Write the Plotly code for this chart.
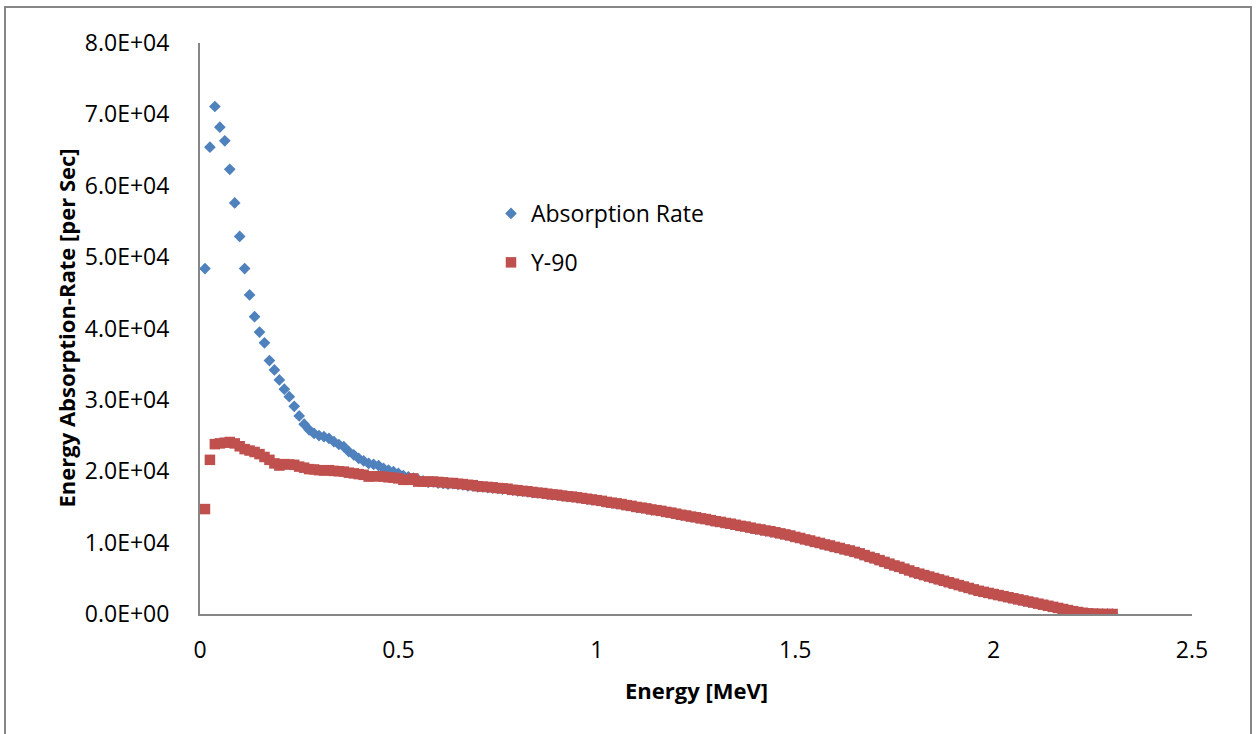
import plotly.graph_objects as go

# Energy bins [MeV]
energy_mev = [
    0.0125, 0.025, 0.0375, 0.05, 0.0625, 0.075, 0.0875, 0.1,
    0.1125, 0.125, 0.1375, 0.15, 0.1625, 0.175, 0.1875, 0.2,
    0.2125, 0.225, 0.2375, 0.25, 0.2625, 0.275, 0.2875, 0.3,
    0.3125, 0.325, 0.3375, 0.35, 0.3625, 0.375, 0.3875, 0.4,
    0.4125, 0.425, 0.4375, 0.45, 0.4625, 0.475, 0.4875, 0.5,
    0.5125, 0.525, 0.5375, 0.55, 0.5625, 0.575, 0.5875, 0.6,
    0.6125, 0.625, 0.6375, 0.65, 0.6625, 0.675, 0.6875, 0.7,
    0.7125, 0.725, 0.7375, 0.75, 0.7625, 0.775, 0.7875, 0.8,
    0.8125, 0.825, 0.8375, 0.85, 0.8625, 0.875, 0.8875, 0.9,
    0.9125, 0.925, 0.9375, 0.95, 0.9625, 0.975, 0.9875, 1.0,
    1.0125, 1.025, 1.0375, 1.05, 1.0625, 1.075, 1.0875, 1.1,
    1.1125, 1.125, 1.1375, 1.15, 1.1625, 1.175, 1.1875, 1.2,
    1.2125, 1.225, 1.2375, 1.25, 1.2625, 1.275, 1.2875, 1.3,
    1.3125, 1.325, 1.3375, 1.35, 1.3625, 1.375, 1.3875, 1.4,
    1.4125, 1.425, 1.4375, 1.45, 1.4625, 1.475, 1.4875, 1.5,
    1.5125, 1.525, 1.5375, 1.55, 1.5625, 1.575, 1.5875, 1.6,
    1.6125, 1.625, 1.6375, 1.65, 1.6625, 1.675, 1.6875, 1.7,
    1.7125, 1.725, 1.7375, 1.75, 1.7625, 1.775, 1.7875, 1.8,
    1.8125, 1.825, 1.8375, 1.85, 1.8625, 1.875, 1.8875, 1.9,
    1.9125, 1.925, 1.9375, 1.95, 1.9625, 1.975, 1.9875, 2.0,
    2.0125, 2.025, 2.0375, 2.05, 2.0625, 2.075, 2.0875, 2.1,
    2.1125, 2.125, 2.1375, 2.15, 2.1625, 2.175, 2.1875, 2.2,
    2.2125, 2.225, 2.2375, 2.25, 2.2625, 2.275, 2.2875, 2.3,
]

absorption_rate = [
    48400, 65400, 71100, 68200, 66300, 62300, 57600, 52900,
    48400, 44700, 41650, 39500, 38000, 35500, 34200, 32800,
    31500, 30450, 29100, 27750, 26600, 25800, 25300, 25000,
    24850, 24600, 24150, 23750, 23450, 22750, 22300, 21800,
    21450, 21100, 20950, 20800, 20400, 20150, 19950, 19700,
    19400, 19200, 19050, 18800, 18650, 18450, 18500, 18350,
    18300, 18200, 18250, 18150, 18100, 17950, 17950, 17800,
    17800, 17700, 17650, 17600, 17500, 17450, 17350, 17250,
    17200, 17150, 17000, 16950, 16900, 16800, 16700, 16650,
    16550, 16450, 16400, 16300, 16200, 16100, 16000, 15900,
    15800, 15650, 15550, 15450, 15350, 15200, 15100, 14950,
    14850, 14750, 14600, 14500, 14400, 14250, 14150, 14000,
    13850, 13750, 13600, 13500, 13350, 13250, 13100, 12950,
    12850, 12700, 12600, 12450, 12300, 12200, 12050, 11900,
    11800, 11650, 11550, 11400, 11250, 11100, 10950, 10750,
    10600, 10400, 10250, 10050, 9900, 9700, 9550, 9350,
    9200, 9000, 8850, 8650, 8450, 8200, 7950, 7750,
    7500, 7250, 7000, 6750, 6550, 6300, 6050, 5800,
    5600, 5400, 5200, 5000, 4800, 4600, 4400, 4200,
    4000, 3800, 3600, 3400, 3200, 3050, 2900, 2750,
    2600, 2450, 2300, 2150, 2000, 1850, 1700, 1550,
    1400, 1250, 1100, 950, 800, 650, 500, 350,
    250, 140, 70, 30, 10, 0, 0, 0,
]

y90 = [
    14700, 21600, 23800, 23900, 24000, 24100, 23900, 23500,
    23100, 22900, 22700, 22400, 22000, 21600, 21100, 20800,
    21000, 20950, 20900, 20650, 20500, 20300, 20250, 20150,
    20100, 20150, 20050, 20000, 19950, 19800, 19700, 19600,
    19500, 19250, 19300, 19300, 19250, 19150, 19100, 19000,
    18800, 18800, 19000, 18550, 18550, 18550, 18550, 18500,
    18450, 18350, 18350, 18250, 18200, 18100, 18050, 17900,
    17850, 17800, 17750, 17650, 17600, 17550, 17400, 17350,
    17250, 17200, 17100, 17000, 16950, 16850, 16750, 16700,
    16600, 16500, 16450, 16350, 16250, 16150, 16050, 15950,
    15850, 15700, 15600, 15500, 15400, 15250, 15150, 15000,
    14900, 14800, 14650, 14550, 14450, 14300, 14200, 14050,
    13900, 13800, 13650, 13550, 13400, 13300, 13150, 13000,
    12900, 12750, 12650, 12500, 12350, 12250, 12100, 11950,
    11850, 11700, 11600, 11450, 11300, 11150, 11000, 10800,
    10650, 10450, 10300, 10100, 9950, 9750, 9600, 9400,
    9250, 9050, 8900, 8700, 8500, 8250, 8000, 7800,
    7550, 7300, 7050, 6800, 6600, 6350, 6100, 5850,
    5650, 5450, 5250, 5050, 4850, 4650, 4450, 4250,
    4050, 3850, 3650, 3450, 3250, 3100, 2950, 2800,
    2650, 2500, 2350, 2200, 2050, 1900, 1750, 1600,
    1450, 1300, 1150, 1000, 850, 700, 550, 400,
    280, 170, 90, 40, 15, 0, 0, 0,
]

y_tickvals = [0, 10000, 20000, 30000, 40000, 50000, 60000, 70000, 80000]
y_ticktext = ["0.0E+00", "1.0E+04", "2.0E+04", "3.0E+04", "4.0E+04",
              "5.0E+04", "6.0E+04", "7.0E+04", "8.0E+04"]
x_tickvals = [0, 0.5, 1, 1.5, 2, 2.5]
x_ticktext = ["0", "0.5", "1", "1.5", "2", "2.5"]

FONT = "Open Sans"
W, H = 1259, 734
L, R, T, B = 200, 67, 43, 120
pw, ph = W - L - R, H - T - B

fig = go.Figure()
fig.add_trace(go.Scatter(
    x=energy_mev, y=absorption_rate, mode="markers", name="Absorption Rate",
    legendgroup="a",
    marker=dict(symbol="diamond", size=9, color="#4F81BD", line=dict(width=0)),
))
fig.add_trace(go.Scatter(
    x=energy_mev, y=y90, mode="markers", name="Y-90",
    legendgroup="b",
    marker=dict(symbol="square", size=10.5, color="#C0504D", line=dict(width=0)),
))

def px_x(p):
    return (p - L) / pw

def px_y(p):
    return (H - B - p) / ph

fig.update_layout(
    width=W, height=H,
    margin=dict(l=L, r=R, t=T, b=B),
    paper_bgcolor="white", plot_bgcolor="white",
    font=dict(family=FONT, size=23, color="black"),
    showlegend=True,
    legend=dict(
        x=px_x(491), y=px_y(192), xanchor="left", yanchor="top",
        bgcolor="rgba(0,0,0,0)", borderwidth=0,
        tracegroupgap=16, traceorder="grouped",
        font=dict(family=FONT, size=23, color="black"),
    ),
    xaxis=dict(
        range=[0, 2.5], tickvals=x_tickvals, ticktext=x_ticktext,
        showgrid=False, zeroline=False, showline=True,
        linecolor="#868686", linewidth=2, ticks="",
        ticklabelstandoff=14,
        tickfont=dict(family=FONT, size=23, color="black"),
    ),
    yaxis=dict(
        range=[0, 80000], tickvals=y_tickvals, ticktext=y_ticktext,
        showgrid=False, zeroline=False, showline=True,
        linecolor="#868686", linewidth=2, ticks="",
        ticklabelstandoff=24,
        tickfont=dict(family=FONT, size=23, color="black"),
    ),
    shapes=[dict(
        type="rect", xref="paper", yref="paper",
        x0=px_x(5), x1=px_x(1251), y0=px_y(745), y1=px_y(7),
        line=dict(color="#868686", width=2), fillcolor="rgba(0,0,0,0)",
        layer="below",
    )],
    annotations=[
        dict(text="<b>Energy [MeV]</b>", xref="paper", yref="paper",
             x=0.5, y=px_y(690), xanchor="center", yanchor="middle",
             showarrow=False, font=dict(family=FONT, size=22, color="black")),
        dict(text="<b>Energy Absorption-Rate [per Sec]</b>", xref="paper", yref="paper",
             x=px_x(65), y=0.5, xanchor="center", yanchor="middle", textangle=-90,
             showarrow=False, font=dict(family=FONT, size=22, color="black")),
    ],
)

fig.write_html("out.html")
